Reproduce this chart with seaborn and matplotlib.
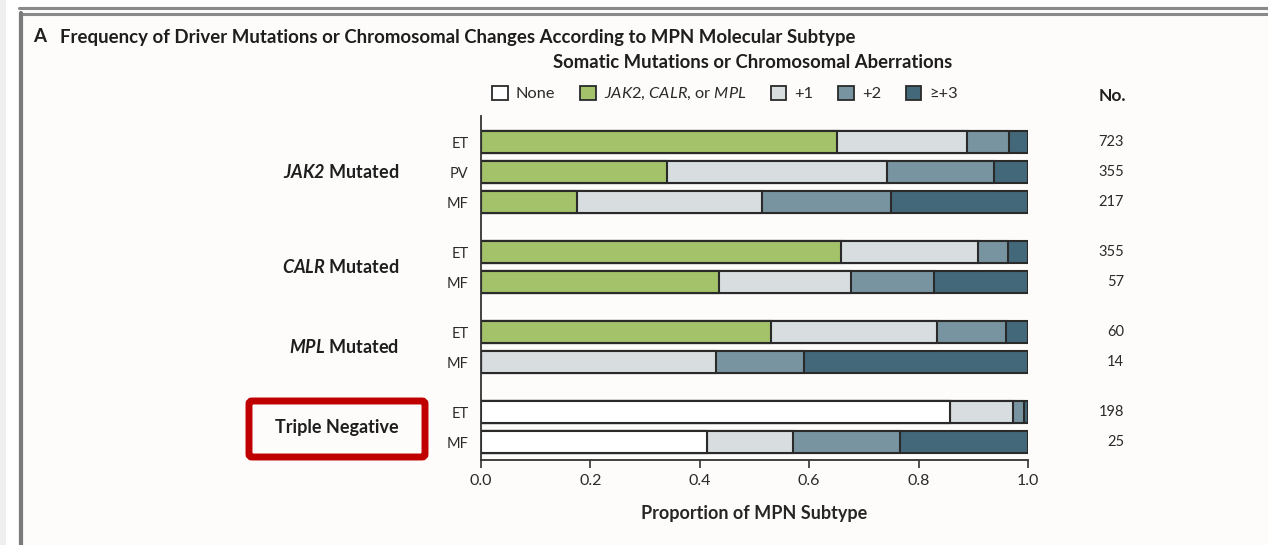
import matplotlib
matplotlib.use("Agg")
import matplotlib.pyplot as plt
from matplotlib.patches import Patch, FancyBboxPatch, Rectangle
from matplotlib.lines import Line2D
from matplotlib.transforms import IdentityTransform, blended_transform_factory
import numpy as np
import pandas as pd
import seaborn as sns

# ---- data: proportion of each MPN subtype by number of aberrations ----
groups = ["JAK2", "CALR", "MPL", "Triple Negative"]
group_sizes = [3, 2, 2, 2]
subtypes = ["ET", "PV", "MF", "ET", "MF", "ET", "MF", "ET", "MF"]
n_patients = [723, 355, 217, 355, 57, 60, 14, 198, 25]

none_share = [0.0, 0.0, 0.0, 0.0, 0.0, 0.0, 0.0, 0.857, 0.413]
driver_share = [0.651, 0.340, 0.175, 0.659, 0.436, 0.530, 0.0, 0.0, 0.0]
plus1_share = [0.238, 0.403, 0.339, 0.249, 0.240, 0.304, 0.429, 0.116, 0.158]
plus2_share = [0.077, 0.195, 0.236, 0.055, 0.153, 0.126, 0.162, 0.019, 0.195]
plus3_share = [0.034, 0.062, 0.250, 0.037, 0.171, 0.040, 0.409, 0.008, 0.234]

legend_labels = ["None", r"$JAK2$, $CALR$, or $MPL$", "+1", "+2", "\u2265+3"]
colors = ["#ffffff", "#a3c26a", "#d8dde0", "#7994a1", "#43687a"]
edge = "#2a2a2a"
bg = "#fdfcfa"
ink = "#1e1e1e"

sns.set_theme(style="white")
plt.rcParams["font.family"] = ["Lato", "DejaVu Sans"]
plt.rcParams["mathtext.fontset"] = "custom"
plt.rcParams["mathtext.it"] = "Lato:italic"
plt.rcParams["mathtext.rm"] = "Lato"
plt.rcParams["mathtext.bf"] = "Lato:bold"
plt.rcParams["mathtext.bfit"] = "Lato:italic:bold"
plt.rcParams["text.color"] = ink

W, H = 1268, 545
fig = plt.figure(figsize=(W / 100, H / 100), dpi=100, facecolor=bg)


def fx(px):
    return px / W


def fy(py):
    return 1 - py / H


# row positions: unit step inside a group, extra gap between groups
gap = 0.667
pos = []
for gi, size in enumerate(group_sizes):
    start = (pos[-1] + 1 + gap) if pos else 0.0
    pos.extend(start + np.arange(size))
pos = np.array(pos)

df = pd.DataFrame({
    "pos": pos,
    "none": none_share,
    "driver": driver_share,
    "p1": plus1_share,
    "p2": plus2_share,
    "p3": plus3_share,
})
cols = ["none", "driver", "p1", "p2", "p3"]
cum = df[cols].cumsum(axis=1)

ax = fig.add_axes([fx(481), fy(460), fx(1028) - fx(481), (460 - 116) / H])
ax.set_facecolor(bg)

# stacked bars: draw cumulative totals from the outermost segment inwards
for col, color in reversed(list(zip(cols, colors))):
    sns.barplot(x=cum[col].values, y=df["pos"].values, orient="y",
                native_scale=True, color=color, saturation=1,
                edgecolor=edge, linewidth=1.5, width=0.75,
                errorbar=None, ax=ax)

ax.set_xlim(0, 1.0)
ax.set_ylim(pos[-1] + 0.6, -0.867)
ticks = np.arange(0, 1.01, 0.2)
ax.set_xticks(ticks)
ax.set_xticklabels([f"{v:.1f}" for v in ticks], fontsize=11.5, color="#2a2a2a")
ax.set_yticks(pos)
ax.set_yticklabels(subtypes, fontsize=10.5, color="#2a2a2a")
ax.tick_params(axis="y", length=0, pad=9)
ax.tick_params(axis="x", length=6, width=1.2, color="#333333", pad=4, bottom=True)
ax.set_xlabel("Proportion of MPN Subtype", fontsize=13, weight="bold", labelpad=12)
ax.set_ylabel("")
for s in ["top", "right"]:
    ax.spines[s].set_visible(False)
for s in ["left", "bottom"]:
    ax.spines[s].set_color("#333333")
    ax.spines[s].set_linewidth(1.3)

# group labels on the left, patient counts on the right
trans = blended_transform_factory(ax.transAxes, ax.transData)
idx = 0
group_text = [r"$\mathbfit{JAK2}$ Mutated", r"$\mathbfit{CALR}$ Mutated",
              r"$\mathbfit{MPL}$ Mutated", "Triple Negative"]
for label, size in zip(group_text, group_sizes):
    yc = pos[idx:idx + size].mean()
    if label == "Triple Negative":
        ax.text(-0.263, yc, label, transform=trans, ha="center", va="center",
                fontsize=13, weight="bold", clip_on=False)
    else:
        ax.text(-0.150, yc, label, transform=trans, ha="right", va="center",
                fontsize=13, weight="bold", clip_on=False)
    idx += size

for y, n in zip(pos, n_patients):
    ax.text(1.1755, y, str(n), transform=trans, ha="right", va="center",
            fontsize=10.5, color="#2a2a2a", clip_on=False)
fig.text(fx(1112), fy(96), "No.", ha="center", va="center",
         fontsize=12.5, weight="bold")

# legend
handles = [Patch(facecolor=c, edgecolor=edge, linewidth=1.3) for c in colors]
leg = fig.legend(handles, legend_labels, loc="center",
                 bbox_to_anchor=(fx(725), fy(94)), ncol=5, frameon=False,
                 fontsize=11.8, handlelength=0.95, handleheight=0.95,
                 handletextpad=0.5, columnspacing=1.5)
for t in leg.get_texts():
    t.set_color("#2a2a2a")

# titles
fig.text(fx(33), fy(37), "A", ha="left", va="center", fontsize=13.5, weight="bold")
fig.text(fx(60), fy(37), "Frequency of Driver Mutations or Chromosomal Changes According to MPN Molecular Subtype",
         ha="left", va="center", fontsize=13.4, weight="bold")
fig.text(fx(753), fy(62), "Somatic Mutations or Chromosomal Aberrations",
         ha="center", va="center", fontsize=13.3, weight="bold")

# page frame
fig.patches.append(Rectangle((0, 0), fx(6), 1, transform=fig.transFigure,
                             facecolor="#efefef", edgecolor="none", zorder=0))
fig.patches.append(Rectangle((fx(6), 0), fx(12), 1, transform=fig.transFigure,
                             facecolor="white", edgecolor="none", zorder=0))
fig.patches.append(Rectangle((fx(18), fy(6)), 1, fy(0) - fy(6), transform=fig.transFigure,
                             facecolor="white", edgecolor="none", zorder=0))
fig.add_artist(Line2D([fx(19), 1], [fy(7.7), fy(7.7)], transform=fig.transFigure,
                      color="#8a8a8a", linewidth=2.2))
fig.add_artist(Line2D([fx(20.5), 1], [fy(13.8), fy(13.8)], transform=fig.transFigure,
                      color="#8a8a8a", linewidth=2.2))
fig.add_artist(Line2D([fx(20.5), fx(20.5)], [fy(13), 0], transform=fig.transFigure,
                      color="#7a7a7a", linewidth=3))

# highlight box around the triple-negative label
box = FancyBboxPatch((249, H - 457), 176, 56, boxstyle="round,pad=0,rounding_size=3",
                     transform=IdentityTransform(), facecolor="none",
                     edgecolor="#c00000", linewidth=5)
fig.add_artist(box)

fig.savefig("out.png", dpi=100, facecolor=bg)
